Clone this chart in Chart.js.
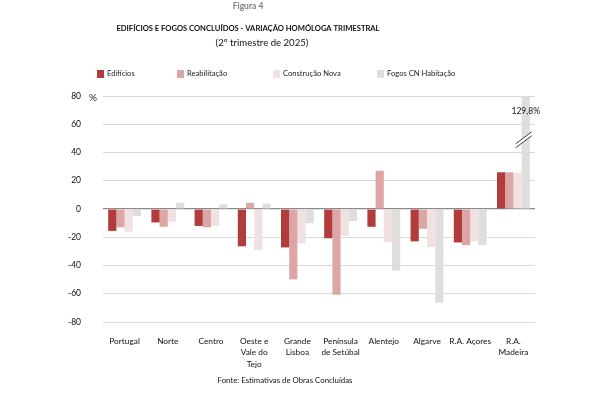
<!DOCTYPE html>
<html>
<head>
<meta charset="utf-8">
<script src="https://cdn.jsdelivr.net/npm/chart.js@4.4.1/dist/chart.umd.min.js"></script>
<style>
  html, body { margin: 0; padding: 0; background: #fff; }
  #wrap { position: relative; width: 601px; height: 395px; }
</style>
</head>
<body>
<div id="wrap"><canvas id="chart" width="601" height="395"></canvas></div>
<script>
// Data
const regions = ['Portugal', 'Norte', 'Centro', ['Oeste e', 'Vale do', 'Tejo'], ['Grande', 'Lisboa'],
  ['Península', 'de Setúbal'], 'Alentejo', 'Algarve', 'R.A. Açores', ['R.A.', 'Madeira']];
const edificios    = [-15.5, -9.5, -12, -26.4, -27.2, -20.7, -12.6, -22.9, -23.7, 26];
const reabilitacao = [-13, -12.6, -13, 4.3, -49.8, -60.7, 27.1, -14, -25.6, 26];
const construcao   = [-16, -9, -12, -29, -24.3, -19, -23.3, -27, -22.9, 25.7];
const fogosCN      = [-5, 4.5, 3.3, 3.8, -10, -8.5, -43.6, -66.4, -25.6, 129.8];
const yTicks = [-80, -60, -40, -20, 0, 20, 40, 60, 80];

const seriesNames = ['Edifícios', 'Reabilitação', 'Construção Nova', 'Fogos CN Habitação'];
const seriesColors = ['#b23b3b', '#dca6a6', '#f2e1e1', '#dedede'];

const FONT = 'Lato, "Open Sans", sans-serif';

/**
 * Headings, legend, source note, the axis unit and the broken bar marker
 */
const decorations = {
  id: 'decorations',
  afterDraw(chart) {
    const c = chart.ctx;
    c.save();
    c.textBaseline = 'middle';
    c.textAlign = 'center';

    c.fillStyle = '#808080';
    c.font = 'bold 8.5px ' + FONT;
    c.fillText('Figura 4', 248, 6);

    c.fillStyle = '#111';
    c.font = 'bold 7.6px ' + FONT;
    c.fillText('EDIFÍCIOS E FOGOS CONCLUÍDOS - VARIAÇÃO HOMÓLOGA TRIMESTRAL', 248, 29);
    c.font = '9.6px ' + FONT;
    c.fillText('(2º trimestre de 2025)', 262, 43);

    c.font = '7.8px ' + FONT;
    c.fillText('Fonte: Estimativas de Obras Concluídas', 285, 380);

    // legend
    const legendX = [97, 177, 273, 377];
    c.textAlign = 'left';
    c.font = '7.6px ' + FONT;
    seriesNames.forEach((name, i) => {
      c.fillStyle = seriesColors[i];
      c.fillRect(legendX[i], 70, 7, 8);
      c.fillStyle = '#222';
      c.fillText(name, legendX[i] + 10, 74);
    });

    // unit
    c.font = '10px ' + FONT;
    c.fillText('%', 89, 98);

    // broken bar for Madeira / Fogos CN
    const y = chart.scales.y;
    const bar = chart.getDatasetMeta(3).data[9];
    const by = y.getPixelForValue(49);
    c.strokeStyle = '#fff';
    c.lineWidth = 4;
    c.beginPath();
    c.moveTo(bar.x - 10, by + 6);
    c.lineTo(bar.x + 6, by - 6);
    c.stroke();
    c.strokeStyle = '#222';
    c.lineWidth = 0.9;
    [-2, 2].forEach(off => {
      c.beginPath();
      c.moveTo(bar.x - 10, by + 6 + off);
      c.lineTo(bar.x + 6, by - 6 + off);
      c.stroke();
    });
    c.fillStyle = '#111';
    c.textAlign = 'center';
    c.font = '8.5px ' + FONT;
    c.fillText(fogosCN[9].toFixed(1).replace('.', ',') + '%', bar.x, y.getPixelForValue(69));
    c.restore();
  }
};

new Chart(document.getElementById('chart'), {
  type: 'bar',
  data: {
    labels: regions,
    datasets: [edificios, reabilitacao, construcao, fogosCN].map((d, i) => ({
      label: seriesNames[i],
      data: d,
      backgroundColor: seriesColors[i],
      borderWidth: 0,
      categoryPercentage: 0.76,
      barPercentage: 1
    }))
  },
  options: {
    responsive: false,
    animation: false,
    layout: { padding: { top: 96, right: 66, left: 0, bottom: 0 } },
    plugins: {
      legend: { display: false },
      tooltip: { enabled: false }
    },
    scales: {
      x: {
        grid: { display: false },
        border: { display: false },
        ticks: {
          color: '#111',
          font: { family: FONT, size: 8.3, lineHeight: 1.35 },
          padding: 6,
          maxRotation: 0,
          autoSkip: false
        },
        afterFit: s => { s.height = 73; }
      },
      y: {
        min: -80,
        max: 80,
        afterBuildTicks: s => { s.ticks = yTicks.map(v => ({ value: v })); },
        afterFit: s => { s.width = 103; },
        border: { display: false },
        grid: {
          drawTicks: false,
          color: ctx => ctx.tick && ctx.tick.value === 0 ? '#8a8a8a' : '#dadada',
          lineWidth: ctx => ctx.tick && ctx.tick.value === 0 ? 1.2 : 1
        },
        ticks: {
          color: '#111',
          padding: 22,
          font: { family: FONT, size: 8.5 }
        }
      }
    }
  },
  plugins: [decorations]
});
</script>
</body>
</html>
